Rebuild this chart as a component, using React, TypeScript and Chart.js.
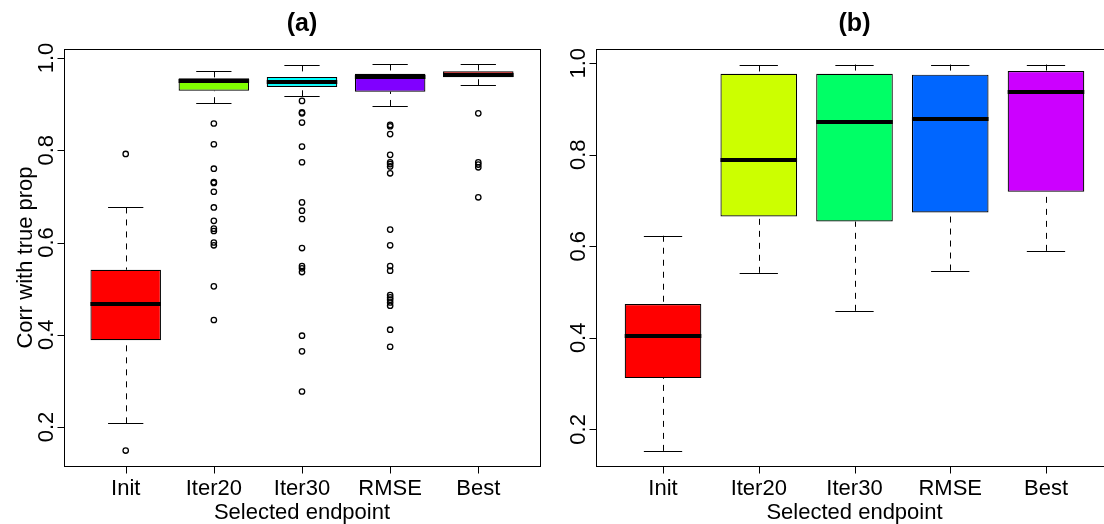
import { useEffect, useRef } from "react";
import { Chart, registerables } from "chart.js";

Chart.register(...registerables);

// ---------- data ----------
const categories = ["Init", "Iter20", "Iter30", "RMSE", "Best"];
const yTickValues = [0.2, 0.4, 0.6, 0.8, 1.0];
const yTickLabels = ["0.2", "0.4", "0.6", "0.8", "1.0"];

// panel (a)
const aLower = [0.208, 0.902, 0.917, 0.896, 0.941];
const aQ1 = [0.388, 0.929, 0.937, 0.927, 0.958];
const aMedian = [0.466, 0.950, 0.948, 0.958, 0.963];
const aQ3 = [0.541, 0.956, 0.959, 0.966, 0.971];
const aUpper = [0.676, 0.971, 0.984, 0.986, 0.986];
const aOutInit = [0.792, 0.149];
const aOutIter20 = [0.858, 0.813, 0.76, 0.731, 0.729, 0.71, 0.676, 0.647, 0.63, 0.625, 0.6, 0.594, 0.505, 0.432];
const aOutIter30 = [0.907, 0.882, 0.88, 0.86, 0.808, 0.774, 0.687, 0.669, 0.651, 0.588, 0.549, 0.544, 0.536, 0.398, 0.364, 0.277];
const aOutRMSE = [0.855, 0.852, 0.835, 0.79, 0.774, 0.77, 0.765, 0.75, 0.628, 0.594, 0.549, 0.539, 0.486, 0.481, 0.476, 0.47, 0.463, 0.411, 0.374];
const aOutBest = [0.88, 0.774, 0.769, 0.763, 0.698];
const aColors = ["#FF0000", "#80FF00", "#00FFFF", "#8000FF", "#FF0000"];

// panel (b)
const bLower = [0.153, 0.542, 0.459, 0.547, 0.59];
const bQ1 = [0.312, 0.665, 0.654, 0.674, 0.719];
const bMedian = [0.404, 0.789, 0.871, 0.877, 0.938];
const bQ3 = [0.474, 0.977, 0.977, 0.975, 0.983];
const bUpper = [0.623, 0.995, 0.997, 0.997, 0.997];
const bColors = ["#FF0000", "#CCFF00", "#00FF66", "#0066FF", "#CC00FF"];

const FONT = '"Liberation Sans", Arial, Helvetica, sans-serif';

type Panel = {
  title: string;
  lower: number[];
  q1: number[];
  median: number[];
  q3: number[];
  upper: number[];
  outliers: number[][];
  colors: string[];
  yMin: number;
  yMax: number;
  yTitle: string | null;
  padding: { left: number; right: number; top: number; bottom: number };
};

const panelA: Panel = {
  title: "(a)",
  lower: aLower,
  q1: aQ1,
  median: aMedian,
  q3: aQ3,
  upper: aUpper,
  outliers: [aOutInit, aOutIter20, aOutIter30, aOutRMSE, aOutBest],
  colors: aColors,
  yMin: 0.1155,
  yMax: 1.0195,
  yTitle: "Corr with true prop",
  padding: { left: 64, right: 12, top: 49, bottom: 58 },
};

const panelB: Panel = {
  title: "(b)",
  lower: bLower,
  q1: bQ1,
  median: bMedian,
  q3: bQ3,
  upper: bUpper,
  outliers: [[], [], [], [], []],
  colors: bColors,
  yMin: 0.12,
  yMax: 1.031,
  yTitle: null,
  padding: { left: 44, right: 11, top: 49, bottom: 58 },
};

const BOX_HALF = 0.4;
const CAP_HALF = 0.2;

function crisp(v: number) {
  return Math.round(v) + 0.5;
}

function overlay(p: Panel) {
  return {
    id: "rBoxplot",
    beforeDatasetsDraw(chart: any) {
      const { ctx } = chart;
      const x = chart.scales.x;
      const y = chart.scales.y;
      ctx.save();
      ctx.strokeStyle = "#000";
      ctx.lineWidth = 1;
      categories.forEach((_, i) => {
        const cx = crisp(x.getPixelForValue(i + 1));
        const c0 = x.getPixelForValue(i + 1 - CAP_HALF);
        const c1 = x.getPixelForValue(i + 1 + CAP_HALF);
        const yl = y.getPixelForValue(p.lower[i]);
        const yq1 = y.getPixelForValue(p.q1[i]);
        const yq3 = y.getPixelForValue(p.q3[i]);
        const yu = y.getPixelForValue(p.upper[i]);
        ctx.setLineDash([6, 6]);
        ctx.beginPath();
        ctx.moveTo(cx, yu);
        ctx.lineTo(cx, yq3);
        ctx.moveTo(cx, yl);
        ctx.lineTo(cx, yq1);
        ctx.stroke();
        ctx.setLineDash([]);
        ctx.beginPath();
        ctx.moveTo(c0, crisp(yu));
        ctx.lineTo(c1, crisp(yu));
        ctx.moveTo(c0, crisp(yl));
        ctx.lineTo(c1, crisp(yl));
        ctx.stroke();
      });
      ctx.restore();
    },
    afterDatasetsDraw(chart: any) {
      const { ctx } = chart;
      const x = chart.scales.x;
      const y = chart.scales.y;
      ctx.save();
      ctx.strokeStyle = "#000";
      ctx.lineWidth = 4;
      ctx.lineCap = "butt";
      categories.forEach((_, i) => {
        const b0 = x.getPixelForValue(i + 1 - BOX_HALF);
        const b1 = x.getPixelForValue(i + 1 + BOX_HALF);
        const ym = Math.round(y.getPixelForValue(p.median[i]));
        ctx.beginPath();
        ctx.moveTo(b0, ym);
        ctx.lineTo(b1, ym);
        ctx.stroke();
      });
      ctx.restore();
    },
    afterDraw(chart: any) {
      const { ctx, chartArea } = chart;
      const { left, right, top, bottom } = chartArea;
      const x = chart.scales.x;
      const y = chart.scales.y;
      ctx.save();
      ctx.strokeStyle = "#000";
      ctx.fillStyle = "#000";
      ctx.lineWidth = 1;
      // frame
      ctx.strokeRect(crisp(left), crisp(top), Math.round(right - left), Math.round(bottom - top));
      // x ticks
      ctx.beginPath();
      categories.forEach((_, i) => {
        const px = crisp(x.getPixelForValue(i + 1));
        ctx.moveTo(px, crisp(bottom));
        ctx.lineTo(px, crisp(bottom) + 7);
      });
      // y ticks
      yTickValues.forEach((v) => {
        const py = crisp(y.getPixelForValue(v));
        ctx.moveTo(crisp(left), py);
        ctx.lineTo(crisp(left) - 7, py);
      });
      ctx.stroke();
      // x labels
      ctx.font = `22px ${FONT}`;
      ctx.textAlign = "center";
      ctx.textBaseline = "alphabetic";
      categories.forEach((c, i) => {
        ctx.fillText(c, x.getPixelForValue(i + 1), bottom + 28.5);
      });
      ctx.fillText("Selected endpoint", (left + right) / 2, bottom + 53);
      // y labels (rotated)
      yTickValues.forEach((v, i) => {
        ctx.save();
        ctx.translate(left - 11, y.getPixelForValue(v));
        ctx.rotate(-Math.PI / 2);
        ctx.fillText(yTickLabels[i], 0, 0);
        ctx.restore();
      });
      if (p.yTitle) {
        ctx.save();
        ctx.translate(left - 32, (top + bottom) / 2);
        ctx.rotate(-Math.PI / 2);
        ctx.fillText(p.yTitle, 0, 0);
        ctx.restore();
      }
      // title
      ctx.font = `bold 25px ${FONT}`;
      ctx.textBaseline = "alphabetic";
      ctx.fillText(p.title, (left + right) / 2, 31);
      ctx.restore();
    },
  };
}

function makeConfig(p: Panel): any {
  const boxes = categories.map((_, i) => ({ x: i + 1, y: [p.q1[i], p.q3[i]] }));
  const outs = p.outliers.flatMap((vals, i) => vals.map((v) => ({ x: i + 1, y: v })));
  return {
    type: "bar",
    data: {
      datasets: [
        {
          type: "bar",
          data: boxes,
          backgroundColor: p.colors,
          borderColor: "#000",
          borderWidth: 1.2,
          borderSkipped: false,
          inflateAmount: 0,
          barPercentage: 0.8,
          categoryPercentage: 1,
          order: 2,
        },
        {
          type: "scatter",
          data: outs,
          pointRadius: 2.7,
          pointBorderWidth: 1.3,
          pointBorderColor: "#000",
          pointBackgroundColor: "rgba(0,0,0,0)",
          borderColor: "#000",
          backgroundColor: "rgba(0,0,0,0)",
          showLine: false,
          order: 1,
        },
      ],
    },
    options: {
      responsive: false,
      animation: false,
      events: [],
      layout: { padding: p.padding },
      plugins: {
        legend: { display: false },
        tooltip: { enabled: false },
        title: { display: false },
      },
      scales: {
        x: {
          type: "linear",
          min: 0.3,
          max: 5.7,
          offset: false,
          display: false,
          afterBuildTicks: (s: any) => {
            s.ticks = categories.map((_, i) => ({ value: i + 1 }));
          },
        },
        y: {
          type: "linear",
          min: p.yMin,
          max: p.yMax,
          display: false,
          afterBuildTicks: (s: any) => {
            s.ticks = yTickValues.map((v) => ({ value: v }));
          },
        },
      },
    },
    plugins: [overlay(p)],
  };
}

function BoxPanel({ panel, left, width }: { panel: Panel; left: number; width: number }) {
  const ref = useRef<HTMLCanvasElement>(null);
  useEffect(() => {
    const canvas = ref.current;
    if (!canvas) return;
    const chart = new Chart(canvas, makeConfig(panel));
    return () => chart.destroy();
  }, [panel]);
  return (
    <canvas
      ref={ref}
      width={width}
      height={524}
      style={{ position: "absolute", left, top: 0, width, height: 524, display: "block" }}
    />
  );
}

export default function App() {
  useEffect(() => {
    document.body.style.margin = "0";
    document.body.style.overflow = "hidden";
  }, []);
  return (
    <div
      style={{
        position: "absolute",
        left: 0,
        top: 0,
        width: 1104,
        height: 524,
        overflow: "hidden",
        background: "#fff",
      }}
    >
      <BoxPanel panel={panelA} left={0} width={552} />
      <BoxPanel panel={panelB} left={552} width={572} />
    </div>
  );
}
